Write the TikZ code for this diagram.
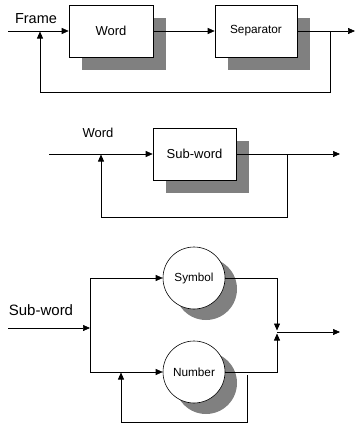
\documentclass[tikz,border=0pt]{standalone}
\usepackage{fontspec}
\setmainfont{Liberation Sans}
\usetikzlibrary{arrows.meta,shadows}
\begin{document}
\begin{tikzpicture}[x=1pt,y=-1pt,
  line width=0.6pt,
  arr/.style={-{Triangle[length=7pt,width=6pt]}},
  shade/.style={drop shadow={shadow xshift=13pt,shadow yshift=-13pt,fill=black!50,opacity=1}},
  cshade/.style={drop shadow={shadow xshift=12pt,shadow yshift=-11pt,fill=black!50,opacity=1}},
  blockbox/.style={draw,fill=white,shade,inner sep=0pt,minimum height=52pt},
  blockcirc/.style={draw,fill=white,circle,cshade,inner sep=0pt,minimum size=62pt},
  lbl/.style={inner sep=0pt}]
\useasboundingbox (0,0) rectangle (357,423);
% top
\node[blockbox,minimum width=84pt,font=\fontsize{13}{15}\selectfont] (word) at (111,31) {Word};
\node[blockbox,minimum width=82pt,font=\fontsize{11.8}{14}\selectfont] (sep) at (256,31) {Separator};
\node[lbl,font=\fontsize{14.5}{17}\selectfont] (frame) at (36,19) {Frame};
\coordinate (in1) at (8,31);
\coordinate (out1) at (355,31);
\coordinate (fb1a) at (330,31);
\coordinate (fb1b) at (330,92);
\coordinate (fb1c) at (40,92);
\coordinate (fb1d) at (40,31.5);
\draw[arr] (in1) -- (word.west);
\draw[arr] (word.east) -- (sep.west);
\draw[arr] (sep.east) -- (out1);
\draw[arr] (fb1a) -- (fb1b) -- (fb1c) -- (fb1d);
% middle
\node[blockbox,minimum width=83pt,font=\fontsize{13}{15}\selectfont] (sub) at (194.5,154) {Sub-word};
\node[lbl,font=\fontsize{13}{15}\selectfont] (wordlbl) at (98,133) {Word};
\coordinate (in2) at (49,154);
\coordinate (out2) at (340,154);
\coordinate (fb2a) at (287,154);
\coordinate (fb2b) at (287,217);
\coordinate (fb2c) at (101,217);
\coordinate (fb2d) at (101,154.5);
\draw[arr] (in2) -- (sub.west);
\draw[arr] (sub.east) -- (out2);
\draw[arr] (fb2a) -- (fb2b) -- (fb2c) -- (fb2d);
% bottom
\node[blockcirc,font=\fontsize{11.7}{14}\selectfont] (sym) at (194,278) {Symbol};
\node[blockcirc,font=\fontsize{11.8}{14}\selectfont] (num) at (194,372) {Number};
\node[lbl,font=\fontsize{15}{18}\selectfont] (sublbl) at (41,310) {Sub-word};
\coordinate (in3) at (8,328);
\coordinate (split) at (90,328);
\coordinate (splitt) at (90,278);
\coordinate (splitb) at (90,372);
\coordinate (jt) at (277,278);
\coordinate (jb) at (277,372);
\coordinate (jta) at (277,330.5);
\coordinate (jba) at (277,333.5);
\coordinate (jo) at (277,332);
\coordinate (out3) at (340,332);
\coordinate (fb3a) at (247,375);
\coordinate (fb3b) at (247,422);
\coordinate (fb3c) at (121,422);
\coordinate (fb3d) at (121,372.5);
\draw[arr] (in3) -- (split);
\draw (splitt) -- (splitb);
\draw[arr] (splitt) -- (sym.west);
\draw[arr] (splitb) -- (num.west);
\draw[arr] (sym.east) -- (jt) -- (jta);
\draw[arr] (num.east) -- (jb) -- (jba);
\draw[arr] (jo) -- (out3);
\draw[arr] (fb3a) -- (fb3b) -- (fb3c) -- (fb3d);
\end{tikzpicture}
\end{document}
